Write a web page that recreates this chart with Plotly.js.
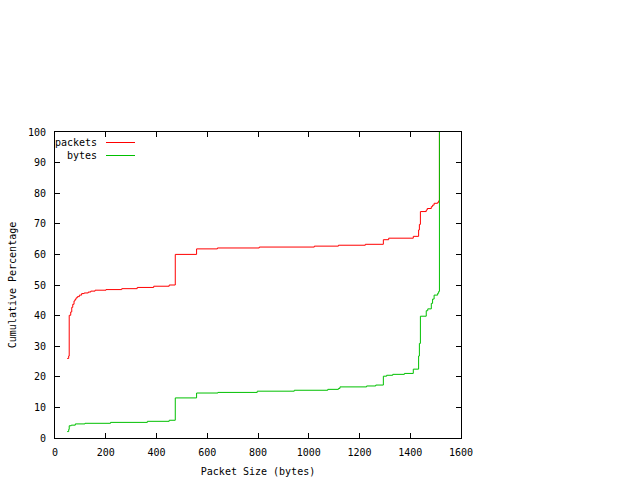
<!DOCTYPE html>
<html>
<head>
<meta charset="utf-8">
<script src="https://cdn.plot.ly/plotly-3.0.1.min.js"></script>
<style>
  html, body { margin: 0; padding: 0; background: #fff; }
  #chart { width: 640px; height: 480px; }
</style>
</head>
<body>
<div id="chart"></div>
<script>
// cumulative distribution of packet sizes
const packetSizes = [48, 54, 56, 62, 66, 70, 75, 79, 83, 88, 96, 105, 115, 131, 141, 158, 201, 263, 324, 389, 450, 474, 558, 640, 805, 1022, 1117, 1223, 1294, 1315, 1412, 1433, 1436, 1440, 1463, 1467, 1483, 1488, 1494, 1508, 1512, 1515];
const packetPct   = [26.0, 26.8, 40.1, 41.2, 42.7, 43.7, 44.8, 45.3, 45.8, 46.2, 46.7, 47.2, 47.4, 47.7, 48.0, 48.3, 48.5, 48.8, 49.2, 49.6, 50.0, 60.0, 61.8, 62.1, 62.4, 62.7, 63.0, 63.3, 64.8, 65.3, 65.9, 68.0, 69.8, 74.0, 74.5, 75.0, 75.6, 76.1, 76.7, 77.0, 77.5, 100];

const byteSizes = [48, 54, 56, 64, 80, 118, 219, 364, 450, 474, 558, 642, 797, 943, 1075, 1117, 1123, 1228, 1264, 1294, 1307, 1331, 1377, 1412, 1433, 1436, 1440, 1463, 1469, 1483, 1488, 1494, 1508, 1512, 1515];
const bytePct   = [2.1, 2.8, 4.0, 4.2, 4.6, 4.8, 5.1, 5.45, 5.8, 13.1, 14.7, 14.9, 15.3, 15.6, 15.9, 16.2, 16.7, 17.0, 17.3, 20.2, 20.5, 20.8, 21.1, 22.5, 26.8, 30.9, 39.8, 41.6, 42.2, 44.0, 45.4, 46.7, 47.3, 47.9, 100];

const seriesNames = ['packets', 'bytes'];
const seriesColors = ['#ff0000', '#00c000'];

const monoFont = { family: 'DejaVu Sans Mono, monospace', size: 10, color: '#000' };

const traces = [
    {
        x: packetSizes, y: packetPct, name: seriesNames[0],
        type: 'scatter', mode: 'lines',
        line: { shape: 'hv', color: seriesColors[0], width: 1 }
    },
    {
        x: byteSizes, y: bytePct, name: seriesNames[1],
        type: 'scatter', mode: 'lines',
        line: { shape: 'hv', color: seriesColors[1], width: 1 }
    }
];

const axisBase = {
    showgrid: false,
    zeroline: false,
    showline: true,
    linecolor: '#000',
    linewidth: 1,
    mirror: 'ticks',
    ticks: 'inside',
    ticklen: 5,
    tickcolor: '#000',
    tickfont: monoFont
};

// gnuplot-style key: text first, line sample after it
const legendAnnotations = seriesNames.map((name, i) => ({
    xref: 'paper', yref: 'paper',
    x: (99 - 55) / 406, y: 1 - (142.5 + i * 13 - 132) / 306,
    xanchor: 'right', yanchor: 'middle',
    text: name, showarrow: false, font: monoFont
}));
const legendShapes = seriesColors.map((c, i) => ({
    type: 'line', xref: 'paper', yref: 'paper',
    x0: (106 - 55) / 406, x1: (135 - 55) / 406,
    y0: 1 - (142.5 + i * 13 - 132) / 306, y1: 1 - (142.5 + i * 13 - 132) / 306,
    line: { color: c, width: 1 }
}));

const layout = {
    width: 640,
    height: 480,
    margin: { l: 55, r: 179, t: 132, b: 42 },
    paper_bgcolor: '#fff',
    plot_bgcolor: '#fff',
    showlegend: false,
    font: monoFont,
    xaxis: {
        ...axisBase,
        range: [0, 1600],
        dtick: 200,
        tick0: 0,
        ticklabelstandoff: 5,
        automargin: false,
        title: { text: 'Packet Size (bytes)', font: monoFont, standoff: 10 }
    },
    yaxis: {
        ...axisBase,
        range: [0, 100],
        dtick: 10,
        tick0: 0,
        ticklabelstandoff: 6,
        automargin: false,
        title: { text: 'Cumulative Percentage', font: monoFont, standoff: 9 }
    },
    annotations: legendAnnotations,
    shapes: legendShapes
};

Plotly.newPlot('chart', traces, layout, { displayModeBar: false, staticPlot: true });
</script>
</body>
</html>
